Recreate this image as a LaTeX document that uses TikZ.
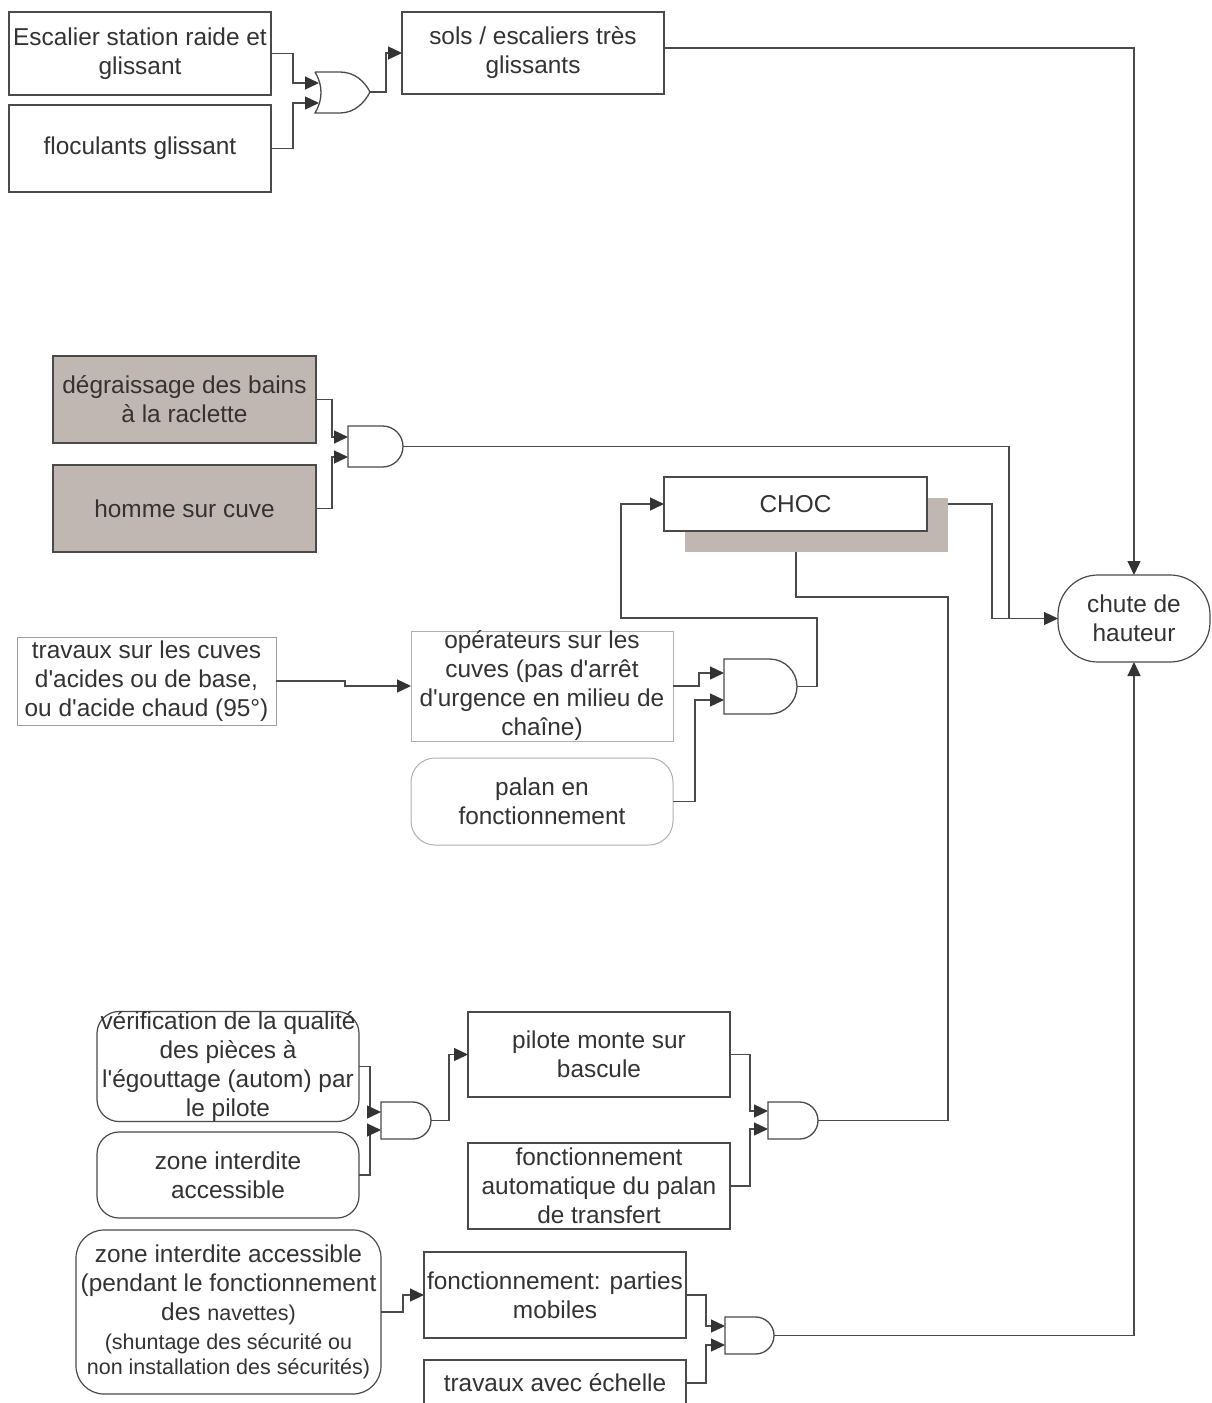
\documentclass[tikz,border=0pt]{standalone}
\usepackage{fontspec}
\setmainfont{Liberation Sans}
\usetikzlibrary{arrows.meta}
\definecolor{ln}{HTML}{4A4A4A}
\definecolor{tx}{HTML}{333333}
\definecolor{shd}{HTML}{C0B6B2}
\definecolor{lb}{HTML}{A39C99}
\definecolor{lg}{HTML}{B0B0B0}
\newcommand\mainf{\fontsize{24.4}{29}\selectfont}
\newcommand\smallf{\fontsize{21.5}{25}\selectfont}
\newcommand\ap{\textquotesingle}
\tikzset{
  box/.style={draw=ln, line width=1.2pt, text=tx, align=center, inner sep=0pt, outer sep=0pt, font=\mainf},
  lightbox/.style={box, draw=lb, line width=1pt},
  greybox/.style={box, draw=lg, line width=1pt},
  wire/.style={draw=ln, line width=1.3pt},
  arr/.style={-{Triangle[length=14pt,width=13pt,color=tx]}},
  gate/.style={draw=ln, line width=1.3pt, fill=white}
}
\newcommand\mkand[5]{%
  \draw[gate] (#2,#3) -- ({#2+#4-#5/2},#3) arc[start angle=-90,end angle=90,radius={#5/2}] -- (#2,{#3+#5}) -- cycle;
  \coordinate (#1o) at ({#2+#4},{#3+#5/2});
}
\begin{document}
\begin{tikzpicture}[x=1pt,y=-1pt]
\useasboundingbox (0,0) rectangle (1212,1403);
\clip (0,0) rectangle (1212,1403);
\fill[white] (0,0) rectangle (1212,1403);

% ---------- boxes ----------
\node[box, minimum width=262pt, minimum height=83pt] (A) at (140,53.5) {Escalier station raide et\\glissant};
\node[box, minimum width=262pt, minimum height=87pt] (B) at (140,148.5) {floculants glissant};
\node[box, minimum width=262pt, minimum height=82pt] (C) at (533,53) {sols / escaliers très\\glissants};
\node[box, fill=shd, minimum width=263pt, minimum height=87pt] (D) at (184.5,399.5) {dégraissage des bains\\à la raclette};
\node[box, fill=shd, minimum width=263pt, minimum height=87pt] (E) at (184.5,508.5) {homme sur cuve};
\node[fill=shd, inner sep=0pt, outer sep=0pt, minimum width=263pt, minimum height=54pt] (S) at (816.5,525) {};
\node[box, fill=white, minimum width=263pt, minimum height=54pt] (CHOC) at (795.5,504) {CHOC};
\node[box, rounded corners=40pt, minimum width=152pt, minimum height=87pt] (chute) at (1134,618.5) {chute de\\hauteur};
\node[lightbox, minimum width=259pt, minimum height=88pt] (F) at (146.5,681) {travaux sur les cuves\\d\ap acides ou de base,\\ou d\ap acide chaud (95°)};
\node[greybox, minimum width=262pt, minimum height=110pt] (G) at (542,686) {opérateurs sur les\\cuves (pas d\ap arrêt\\d\ap urgence en milieu de\\chaîne)};
\node[greybox, rounded corners=24pt, minimum width=262pt, minimum height=87pt] (H) at (542,801.5) {palan en\\fonctionnement};
\node[box, rounded corners=22pt, minimum width=262pt, minimum height=107pt] (I) at (228,1066.5) {vérification de la qualité\\des pièces à\\l\ap égouttage (autom) par\\le pilote};
\node[box, rounded corners=22pt, minimum width=262pt, minimum height=86pt] (J) at (228,1175) {zone interdite\\accessible};
\node[box, minimum width=262pt, minimum height=85pt] (K) at (599,1054.5) {pilote monte sur\\bascule};
\node[box, minimum width=262pt, minimum height=86pt] (L) at (599,1186) {fonctionnement\\automatique du palan\\de transfert};
\node[box, rounded corners=28pt, minimum width=305pt, minimum height=164pt] (M) at (228.5,1312) {zone interdite accessible\\(pendant le fonctionnement\\des {\smallf navettes)}\\{\smallf (shuntage des sécurité ou}\\[-4pt]{\smallf non installation des sécurités)}};
\node[box, minimum width=262pt, minimum height=86pt] (N) at (555,1295) {fonctionnement: parties\\mobiles};
\node[box, minimum width=262pt, minimum height=46pt] (O) at (555,1383) {travaux avec échelle};

% ---------- gates ----------
\draw[gate] (315,72) -- (340,72) .. controls (355,72) and (365,82) .. (370,92)
  .. controls (365,102) and (355,113) .. (340,113) -- (315,113)
  .. controls (323,100) and (323,85) .. (315,72);
\coordinate (or1o) at (370,92);
\coordinate (or1a) at (319,83);
\coordinate (or1b) at (319,103);

\mkand{and2}{348}{426}{55}{41}
\coordinate (and2a) at (348,437);
\coordinate (and2b) at (348,457);

\mkand{and3}{724}{659}{73}{55}
\coordinate (and3a) at (724,673);
\coordinate (and3b) at (724,700);

\mkand{and4}{381}{1102}{50}{37}
\coordinate (and4a) at (381,1112);
\coordinate (and4b) at (381,1130);

\mkand{and5}{768}{1102}{50}{37}
\coordinate (and5a) at (768,1111);
\coordinate (and5b) at (768,1129);

\mkand{and6}{725}{1317}{49}{37}
\coordinate (and6a) at (725,1326);
\coordinate (and6b) at (725,1345);

\coordinate (j1) at (1009,618.5);

% ---------- connectors ----------
\draw[wire,arr] (A.east) -- ++(22,0) |- (or1a);
\draw[wire,arr] (B.east) -- ++(22,0) |- (or1b);
\draw[wire,arr] (or1o) -- ++(16,0) |- (C.west);
\draw[wire,arr] (C.east |- 0,48) -| (chute.north);

\draw[wire,arr] (D.east) -- ++(16,0) |- (and2a);
\draw[wire,arr] (E.east) -- ++(16,0) |- (and2b);
\draw[wire] (and2o) -| (j1);
\draw[wire,arr] (j1) -- (chute.west);
\draw[wire] (S.east |- CHOC.east) -| (992,618.5) -- (j1);

\draw[wire,arr] (and3o) -- (817,686.5) |- (621,618) |- (CHOC.west);
\draw[wire,arr] (F.east) -- (345,681) -- (345,686) -- (G.west);
\draw[wire,arr] (G.east) -- (699,686) |- (and3a);
\draw[wire,arr] (H.east) -- (695,801.5) |- (and3b);

\draw[wire] (S.south -| 796,0) |- (948,597) |- (and5o);

\draw[wire,arr] (I.east) -- (370,1066.5) |- (and4a);
\draw[wire,arr] (J.east) -- (370,1175) |- (and4b);
\draw[wire,arr] (and4o) -- (449,1120.5) |- (K.west);
\draw[wire,arr] (K.east) -- (750,1054.5) |- (and5a);
\draw[wire,arr] (L.east) -- (750,1186) |- (and5b);

\draw[wire,arr] (M.east) -- (403,1312) |- (N.west);
\draw[wire,arr] (N.east) -- (706,1295) |- (and6a);
\draw[wire,arr] (O.east) -- (706,1383) |- (and6b);
\draw[wire,arr] (and6o) -| (chute.south);
\end{tikzpicture}
\end{document}
